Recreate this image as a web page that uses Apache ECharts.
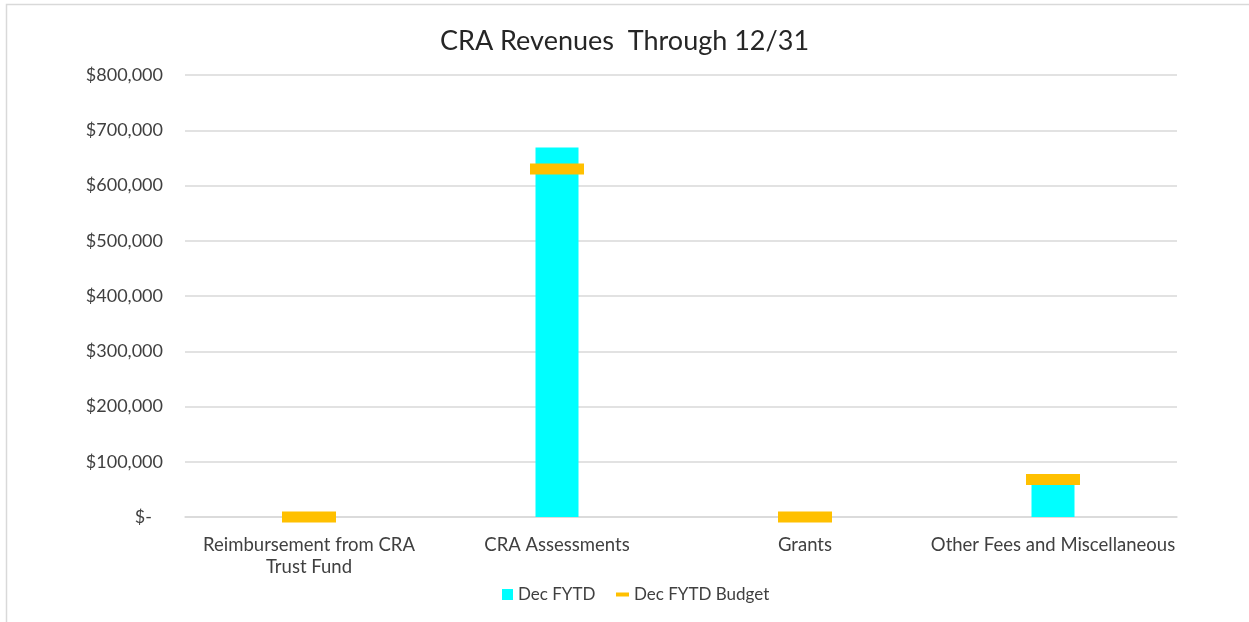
<!DOCTYPE html>
<html>
<head>
<meta charset="utf-8">
<script src="https://cdn.jsdelivr.net/npm/echarts@6/dist/echarts.min.js"></script>
<style>
  html, body { margin: 0; padding: 0; background: #ffffff; }
  #chart { width: 1249px; height: 622px; }
</style>
</head>
<body>
<div id="chart"></div>
<script>
// Revenue categories and year-to-date figures through 12/31
const categories = ['Reimbursement from CRA\nTrust Fund', 'CRA Assessments', 'Grants', 'Other Fees and Miscellaneous'];
const actualFYTD = [0, 669000, 0, 65000];
const budgetFYTD = [0, 630000, 0, 68000];
const yTicks = { min: 0, max: 800000, interval: 100000 };

const FONT = 'Lato, "Open Sans", sans-serif';
const TEXT = '#404040';
const GRID = '#d9d9d9';

const chart = echarts.init(document.getElementById('chart'), null, { renderer: 'canvas' });

function money(v) {
  if (v === 0) return '{z|$-}';
  return '$' + v.toLocaleString('en-US');
}

chart.setOption({
  animation: false,
  backgroundColor: '#ffffff',
  title: {
    text: 'CRA Revenues  Through 12/31',
    left: 'center',
    top: 23,
    textStyle: { fontFamily: FONT, fontSize: 27, fontWeight: 'normal', color: '#262626' }
  },
  graphic: [{
    type: 'rect',
    shape: { x: 6.5, y: 4.5, width: 1400, height: 800 },
    style: { fill: null, stroke: GRID, lineWidth: 1.5 },
    silent: true
  }],
  legend: [{
    data: ['Dec FYTD'],
    left: 497,
    top: 581,
    icon: 'rect',
    itemWidth: 11,
    itemHeight: 11,
    itemGap: 6,
    textStyle: { fontFamily: FONT, fontSize: 17, color: TEXT }
  }, {
    data: ['Dec FYTD Budget'],
    left: 611,
    top: 581,
    icon: 'rect',
    itemWidth: 13,
    itemHeight: 4,
    textStyle: { fontFamily: FONT, fontSize: 17, color: TEXT }
  }],
  grid: { left: 185, right: 72, top: 75, bottom: 105 },
  xAxis: {
    type: 'category',
    data: categories,
    axisLine: { show: true, lineStyle: { color: GRID, width: 1.5 } },
    axisTick: { show: false },
    axisLabel: {
      fontFamily: FONT, fontSize: 18.5, color: TEXT, margin: 17, lineHeight: 22, interval: 0
    }
  },
  yAxis: {
    type: 'value',
    min: yTicks.min,
    max: yTicks.max,
    interval: yTicks.interval,
    axisLine: { show: false },
    axisTick: { show: false },
    splitLine: { lineStyle: { color: GRID, width: 1.5 } },
    axisLabel: {
      fontFamily: FONT, fontSize: 18, color: TEXT, margin: 22,
      formatter: money,
      rich: { z: { fontFamily: FONT, fontSize: 18, color: TEXT, padding: [0, 11, 0, 0] } }
    }
  },
  series: [{
    name: 'Dec FYTD',
    type: 'bar',
    data: actualFYTD,
    barWidth: 43,
    itemStyle: { color: '#00FFFF' },
    z: 2
  }, {
    name: 'Dec FYTD Budget',
    type: 'scatter',
    data: budgetFYTD,
    symbol: 'rect',
    symbolSize: [54, 11],
    itemStyle: { color: '#FFC000', opacity: 1 },
    z: 3
  }]
});
</script>
</body>
</html>
